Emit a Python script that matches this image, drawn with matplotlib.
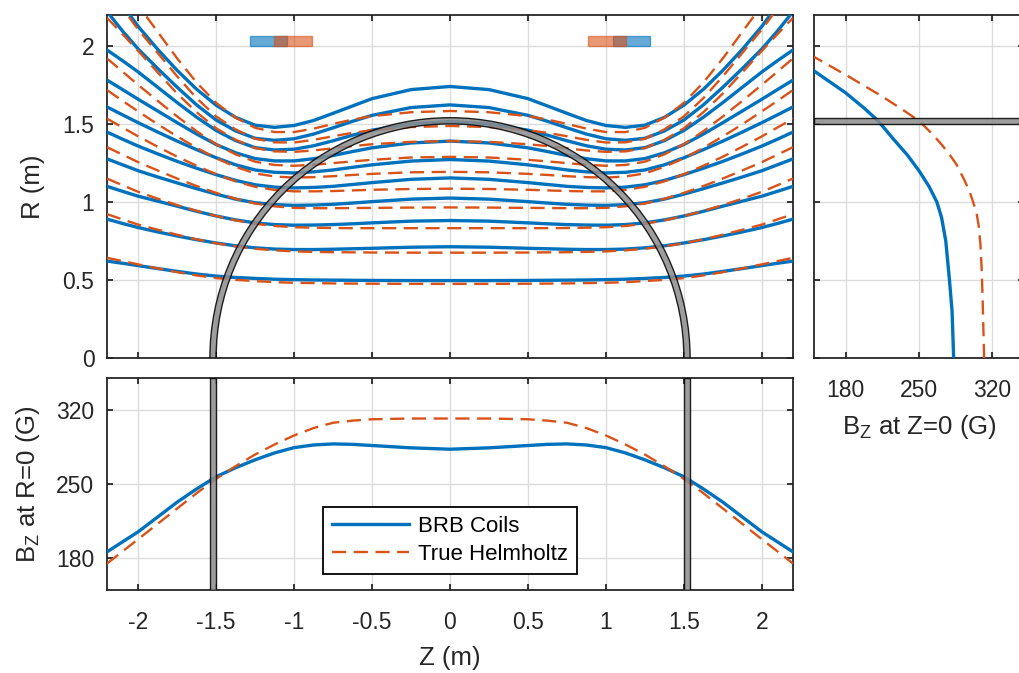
import numpy as np
import matplotlib
matplotlib.use("Agg")
import matplotlib.pyplot as plt
from matplotlib.patches import Wedge, Rectangle

plt.rcParams['font.family'] = ['Liberation Sans', 'DejaVu Sans']
plt.rcParams['axes.unicode_minus'] = False
plt.rcParams['mathtext.default'] = 'regular'

BLUE = '#0072BD'
RED = '#D95319'
INK = '#262626'

# ---- field lines, R (m) at each Z (m) for Z >= 0 (lines are symmetric in Z)
z_half = [0, 0.25, 0.5, 0.625, 0.75, 0.875, 1.0, 1.125, 1.25, 1.375,
          1.5, 1.625, 1.75, 1.875, 2.0, 2.1, 2.2]

brb_lines = [
    [0.496, 0.496, 0.497, 0.498, 0.499, 0.500, 0.502, 0.505, 0.510, 0.516, 0.525, 0.538, 0.555, 0.573, 0.592, 0.607, 0.621],
    [0.713, 0.710, 0.703, 0.700, 0.697, 0.695, 0.695, 0.698, 0.706, 0.719, 0.737, 0.758, 0.782, 0.808, 0.836, 0.862, 0.890],
    [0.881, 0.877, 0.866, 0.860, 0.855, 0.852, 0.851, 0.855, 0.866, 0.885, 0.910, 0.940, 0.973, 1.005, 1.037, 1.068, 1.100],
    [1.025, 1.018, 1.002, 0.993, 0.985, 0.980, 0.978, 0.983, 0.995, 1.018, 1.050, 1.085, 1.122, 1.160, 1.200, 1.238, 1.276],
    [1.154, 1.145, 1.124, 1.112, 1.100, 1.093, 1.090, 1.095, 1.110, 1.138, 1.175, 1.216, 1.260, 1.308, 1.358, 1.402, 1.448],
    [1.272, 1.262, 1.238, 1.222, 1.205, 1.193, 1.186, 1.190, 1.205, 1.238, 1.283, 1.335, 1.390, 1.448, 1.508, 1.558, 1.609],
    [1.390, 1.378, 1.347, 1.323, 1.298, 1.277, 1.263, 1.263, 1.278, 1.315, 1.368, 1.435, 1.508, 1.583, 1.658, 1.720, 1.781],
    [1.515, 1.500, 1.460, 1.428, 1.392, 1.360, 1.338, 1.333, 1.348, 1.393, 1.458, 1.543, 1.637, 1.735, 1.833, 1.905, 1.974],
    [1.622, 1.605, 1.555, 1.517, 1.475, 1.435, 1.405, 1.395, 1.408, 1.455, 1.525, 1.622, 1.735, 1.855, 1.980, 2.095, 2.220],
    [1.740, 1.720, 1.662, 1.615, 1.568, 1.522, 1.490, 1.478, 1.492, 1.542, 1.620, 1.722, 1.843, 1.978, 2.125, 2.260, 2.400],
]

helm_lines = [
    [0.475, 0.475, 0.476, 0.477, 0.478, 0.480, 0.482, 0.486, 0.493, 0.501, 0.512, 0.529, 0.550, 0.574, 0.600, 0.621, 0.642],
    [0.675, 0.675, 0.676, 0.677, 0.678, 0.680, 0.683, 0.690, 0.700, 0.715, 0.735, 0.760, 0.790, 0.822, 0.855, 0.888, 0.922],
    [0.832, 0.832, 0.832, 0.832, 0.833, 0.835, 0.838, 0.846, 0.860, 0.882, 0.910, 0.943, 0.980, 1.021, 1.065, 1.107, 1.150],
    [0.965, 0.964, 0.962, 0.961, 0.960, 0.960, 0.962, 0.972, 0.990, 1.020, 1.058, 1.102, 1.150, 1.202, 1.255, 1.303, 1.351],
    [1.085, 1.083, 1.078, 1.074, 1.070, 1.068, 1.068, 1.077, 1.097, 1.132, 1.178, 1.232, 1.290, 1.354, 1.420, 1.477, 1.534],
    [1.193, 1.190, 1.180, 1.173, 1.165, 1.159, 1.156, 1.163, 1.183, 1.225, 1.280, 1.347, 1.420, 1.498, 1.580, 1.648, 1.717],
    [1.289, 1.285, 1.270, 1.260, 1.249, 1.238, 1.232, 1.237, 1.258, 1.305, 1.370, 1.453, 1.548, 1.648, 1.750, 1.835, 1.920],
    [1.390, 1.385, 1.370, 1.358, 1.344, 1.330, 1.321, 1.324, 1.345, 1.398, 1.472, 1.575, 1.695, 1.830, 1.968, 2.075, 2.180],
    [1.487, 1.480, 1.460, 1.443, 1.421, 1.398, 1.381, 1.382, 1.405, 1.465, 1.548, 1.665, 1.805, 1.955, 2.105, 2.240, 2.400],
    [1.583, 1.575, 1.550, 1.528, 1.500, 1.470, 1.448, 1.448, 1.475, 1.540, 1.635, 1.765, 1.920, 2.090, 2.260, 2.400, 2.550],
]

# ---- on-axis field Bz(R=0) vs Z (G), same Z points
bz_axis_brb = [283, 284.3, 286.5, 287.6, 288, 287, 284.5, 279.5, 273, 265.5,
               257, 245.5, 233, 219, 205, 195.5, 186]
bz_axis_helm = [312, 312, 311.3, 310, 308, 303, 296, 287.5, 278, 267,
                255, 241.5, 227, 212.5, 198, 186.5, 175]

# ---- midplane field Bz(Z=0) vs R
r_mid_brb = [0, 0.3, 0.5, 0.75, 0.9, 1.0, 1.1, 1.2, 1.3, 1.4, 1.52, 1.6, 1.7, 1.84]
bz_mid_brb = [283, 281.5, 279, 275.5, 271.5, 267, 259.5, 250, 239, 226, 211, 198, 180, 150]
r_mid_helm = [0, 0.4, 0.6, 0.73, 0.85, 0.94, 1.07, 1.15, 1.24, 1.31, 1.38, 1.45, 1.52, 1.6, 1.68, 1.8, 1.93]
bz_mid_helm = [312, 310.5, 309.5, 308.5, 306.8, 304.5, 298, 292.5, 285.7, 278.5,
               270, 260.5, 250, 232.5, 214, 184, 150]

# vessel wall and coil cross sections (Z range, R range)
vessel_r = 1.52
wall = 0.04
brb_coil = (1.046, 1.286, 2.0, 2.066)
helm_coil = (0.886, 1.13, 2.0, 2.066)

TICK_FS = 16.5
LABEL_FS = 18.5
LW_BRB = 2.4
LW_HELM = 1.7


def mirror(zh, vals):
    zh = np.asarray(zh)
    vals = np.asarray(vals)
    z = np.concatenate([-zh[::-1], zh[1:]])
    v = np.concatenate([vals[::-1], vals[1:]])
    return z, v


def style(ax):
    for s in ax.spines.values():
        s.set_color(INK)
        s.set_linewidth(1.3)
    ax.tick_params(direction='in', length=4, width=1.3, color=INK,
                   labelsize=TICK_FS, labelcolor=INK, top=True, right=True)
    ax.tick_params(axis='x', pad=15)
    ax.tick_params(axis='y', pad=9)
    ax.grid(True, color='#dcdcdc', linewidth=1.0)
    ax.set_axisbelow(True)


fig = plt.figure(figsize=(10.2, 6.73), dpi=100)
W, H = 1020, 673
ax_main = fig.add_axes([107 / W, (H - 358) / H, 686 / W, (358 - 14.7) / H])
ax_bz = fig.add_axes([107 / W, (H - 590) / H, 686 / W, (590 - 378.3) / H])
ax_r = fig.add_axes([814 / W, (H - 358) / H, 210 / W, (358 - 14.7) / H])

# main panel: flux surfaces
for line in brb_lines:
    z, r = mirror(z_half, line)
    ax_main.plot(z, r, color=BLUE, lw=LW_BRB, zorder=3, solid_joinstyle='round')
for line in helm_lines:
    z, r = mirror(z_half, line)
    ax_main.plot(z, r, color=RED, lw=LW_HELM, dashes=(6, 3.2), zorder=3)

ax_main.add_patch(Wedge((0, 0), vessel_r + wall / 2, 0, 180, width=wall,
                        facecolor='#8c8c8c', edgecolor='black', lw=1.0,
                        alpha=0.85, zorder=4))

for sign in (-1, 1):
    z0, z1, r0, r1 = brb_coil
    lo = min(sign * z0, sign * z1)
    ax_main.add_patch(Rectangle((lo, r0), z1 - z0, r1 - r0, facecolor=BLUE,
                                edgecolor=BLUE, alpha=0.6, lw=1.0, zorder=5))
    z0, z1, r0, r1 = helm_coil
    lo = min(sign * z0, sign * z1)
    ax_main.add_patch(Rectangle((lo, r0), z1 - z0, r1 - r0, facecolor=RED,
                                edgecolor=RED, alpha=0.6, lw=1.0, zorder=5))

ax_main.set_xlim(-2.2, 2.2)
ax_main.set_ylim(0, 2.2)
ax_main.set_xticks(np.arange(-2, 2.01, 0.5))
ax_main.set_xticklabels([])
ax_main.set_yticks([0, 0.5, 1, 1.5, 2])
ax_main.set_yticklabels(['0', '0.5', '1', '1.5', '2'])
ax_main.set_ylabel('R (m)', fontsize=LABEL_FS, color=INK, labelpad=13)
style(ax_main)

# bottom panel: Bz on axis
z, b = mirror(z_half, bz_axis_brb)
ax_bz.plot(z, b, color=BLUE, lw=LW_BRB, label='BRB Coils', zorder=3)
z, b = mirror(z_half, bz_axis_helm)
ax_bz.plot(z, b, color=RED, lw=LW_HELM, dashes=(6, 3.2), label='True Helmholtz', zorder=3)
for sign in (-1, 1):
    ax_bz.axvspan(sign * vessel_r - wall / 2, sign * vessel_r + wall / 2,
                  facecolor='#8c8c8c', edgecolor='black', lw=1.0, alpha=0.85, zorder=4)
ax_bz.set_xlim(-2.2, 2.2)
ax_bz.set_ylim(150, 350)
ax_bz.set_xticks(np.arange(-2, 2.01, 0.5))
ax_bz.set_xticklabels(['-2', '-1.5', '-1', '-0.5', '0', '0.5', '1', '1.5', '2'])
ax_bz.set_yticks([180, 250, 320])
ax_bz.set_xlabel('Z (m)', fontsize=LABEL_FS, color=INK, labelpad=9)
ax_bz.set_ylabel('B$_\\mathregular{Z}$ at R=0 (G)', fontsize=LABEL_FS, color=INK, labelpad=10)
style(ax_bz)
leg = ax_bz.legend(loc='lower center', bbox_to_anchor=(0.5, 0.045), fontsize=16,
                   fancybox=False, framealpha=1, edgecolor='black',
                   handlelength=3.5, handletextpad=0.4, borderpad=0.4,
                   labelspacing=0.3, borderaxespad=0.3)
leg.get_frame().set_linewidth(1.3)
leg.set_zorder(6)

# right panel: Bz in the midplane
ax_r.plot(bz_mid_brb, r_mid_brb, color=BLUE, lw=LW_BRB, zorder=3)
ax_r.plot(bz_mid_helm, r_mid_helm, color=RED, lw=LW_HELM, dashes=(6, 3.2), zorder=3)
ax_r.axhspan(vessel_r - wall / 2, vessel_r + wall / 2, facecolor='#8c8c8c',
             edgecolor='black', lw=1.0, alpha=0.85, zorder=4)
ax_r.set_xlim(150, 350)
ax_r.set_ylim(0, 2.2)
ax_r.set_xticks([180, 250, 320])
ax_r.set_yticks([0, 0.5, 1, 1.5, 2])
ax_r.set_yticklabels([])
ax_r.set_xlabel('B$_\\mathregular{Z}$ at Z=0 (G)', fontsize=LABEL_FS, color=INK, labelpad=8)
style(ax_r)

fig.savefig('out.png', dpi=100)
